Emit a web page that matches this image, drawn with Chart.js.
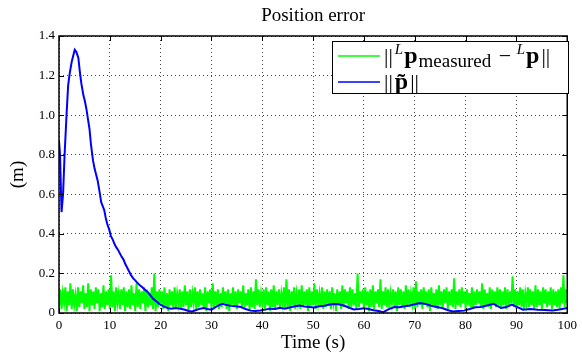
<!DOCTYPE html>
<html>
<head>
<meta charset="utf-8">
<script src="https://cdn.jsdelivr.net/npm/chart.js@4.4.1/dist/chart.umd.min.js"></script>
<style>
  html, body { margin: 0; padding: 0; background: #fff; }
  #wrap { width: 582px; height: 356px; }
</style>
</head>
<body>
<div id="wrap"><canvas id="posError"></canvas></div>
<script>
// measured position error, one sample every 0.25 s (m)
const greenStep = 0.25;
const greenVals = [
  0.03,0.12,0.02,0.10,0.05,0.13,0.01,0.11,0.04,0.15,
  0.02,0.12,0.04,0.09,0.01,0.13,0.03,0.11,0.05,0.14,
  0.02,0.10,0.03,0.15,0.01,0.12,0.04,0.11,0.02,0.13,
  0.05,0.12,0.01,0.10,0.03,0.14,0.02,0.11,0.04,0.12,
  0.02,0.19,0.03,0.11,0.01,0.13,0.05,0.10,0.02,0.12,
  0.04,0.13,0.01,0.11,0.03,0.12,0.02,0.14,0.04,0.10,
  0.01,0.15,0.03,0.12,0.02,0.11,0.05,0.13,0.01,0.12,
  0.03,0.10,0.04,0.13,0.02,0.20,0.01,0.11,0.03,0.12,
  0.05,0.11,0.02,0.13,0.03,0.10,0.01,0.12,0.04,0.11,
  0.02,0.13,0.03,0.10,0.05,0.12,0.02,0.11,0.03,0.14,
  0.04,0.11,0.01,0.12,0.03,0.10,0.05,0.13,0.02,0.11,
  0.03,0.12,0.04,0.10,0.02,0.13,0.01,0.11,0.05,0.12,
  0.02,0.15,0.03,0.11,0.04,0.12,0.02,0.10,0.03,0.13,
  0.05,0.11,0.02,0.12,0.01,0.10,0.04,0.13,0.03,0.11,
  0.02,0.12,0.05,0.11,0.03,0.14,0.02,0.10,0.04,0.12,
  0.01,0.13,0.03,0.11,0.02,0.17,0.04,0.12,0.03,0.10,
  0.05,0.12,0.02,0.13,0.04,0.11,0.01,0.12,0.03,0.14,
  0.02,0.11,0.04,0.12,0.03,0.10,0.05,0.13,0.02,0.17,
  0.03,0.12,0.01,0.11,0.04,0.13,0.02,0.10,0.05,0.12,
  0.02,0.14,0.03,0.11,0.04,0.12,0.01,0.13,0.03,0.11,
  0.04,0.15,0.02,0.12,0.05,0.10,0.03,0.13,0.02,0.11,
  0.03,0.12,0.04,0.11,0.02,0.13,0.05,0.10,0.01,0.12,
  0.04,0.11,0.02,0.14,0.03,0.12,0.05,0.11,0.02,0.13,
  0.03,0.12,0.04,0.10,0.02,0.20,0.03,0.11,0.05,0.12,
  0.02,0.13,0.04,0.11,0.01,0.12,0.03,0.14,0.02,0.11,
  0.05,0.12,0.03,0.17,0.02,0.11,0.04,0.13,0.03,0.12,
  0.02,0.10,0.05,0.12,0.03,0.11,0.01,0.13,0.04,0.12,
  0.03,0.11,0.02,0.14,0.04,0.12,0.03,0.10,0.05,0.13,
  0.02,0.16,0.03,0.11,0.04,0.12,0.02,0.13,0.05,0.11,
  0.03,0.12,0.01,0.13,0.04,0.10,0.03,0.12,0.02,0.14,
  0.04,0.11,0.03,0.12,0.05,0.13,0.02,0.11,0.04,0.12,
  0.03,0.175,0.02,0.11,0.04,0.12,0.03,0.13,0.05,0.11,
  0.02,0.12,0.04,0.10,0.03,0.13,0.02,0.11,0.04,0.12,
  0.05,0.11,0.03,0.15,0.02,0.12,0.04,0.10,0.03,0.13,
  0.02,0.12,0.05,0.11,0.03,0.13,0.04,0.12,0.02,0.11,
  0.04,0.13,0.02,0.12,0.03,0.11,0.05,0.185,0.03,0.12,
  0.02,0.11,0.04,0.13,0.03,0.12,0.02,0.10,0.05,0.13,
  0.03,0.12,0.04,0.11,0.02,0.14,0.03,0.12,0.04,0.11,
  0.02,0.13,0.05,0.12,0.03,0.11,0.04,0.13,0.02,0.12,
  0.04,0.11,0.03,0.12,0.02,0.13,0.05,0.19,0.03,0.12,
  0.05
];

// estimated position error ||p~||
const blueTime = [
  0, 0.2, 0.5, 0.8, 1.1, 1.5, 1.8, 2.1, 2.5, 2.8,
  3.1, 3.4, 3.8, 4.1, 4.4, 4.8, 5.1, 5.4, 5.7, 6.0,
  6.3, 6.7, 7.0, 7.3, 7.6, 8.0, 8.3, 8.6, 8.9, 9.2,
  9.5, 9.9, 10.2, 10.6, 10.9, 11.3, 11.6, 12.0, 12.3, 12.7,
  13.0, 13.4, 13.8, 14.2, 14.6, 15.0, 15.5, 15.9, 16.4, 17.0,
  17.5, 18.1, 18.6, 19.2, 19.8, 20.3, 20.9, 21.5, 22.2, 23.0,
  23.9, 24.8, 25.5, 26.2, 27.0, 27.8, 28.5, 29.2, 30.0, 30.8,
  31.5, 32.2, 33.0, 33.8, 34.8, 35.8, 36.7, 37.7, 38.6, 39.6,
  40.6, 41.5, 42.5, 43.5, 44.4, 45.4, 46.4, 47.3, 48.3, 49.3,
  50.2, 51.2, 52.2, 53.1, 54.0, 55.0, 56.0, 57.0, 58.0, 59.0,
  60.0, 60.9, 61.9, 62.9, 63.8, 64.8, 66.0, 67.0, 68.0, 69.0,
  70.0, 71.0, 72.1, 73.2, 74.3, 75.4, 76.4, 77.5, 78.6, 79.7,
  80.8, 81.9, 83.0, 84.2, 85.5, 86.3, 87.0, 88.0, 89.1, 90.2,
  91.3, 92.7, 94.2, 95.6, 97.1, 98.5, 100
];
const blueVals = [
  0.87, 0.80, 0.51, 0.60, 0.80, 1.01, 1.15, 1.21, 1.27, 1.30,
  1.33, 1.32, 1.29, 1.22, 1.16, 1.10, 1.07, 1.03, 0.98, 0.93,
  0.85, 0.77, 0.73, 0.70, 0.67, 0.61, 0.56, 0.54, 0.52, 0.48,
  0.45, 0.42, 0.39, 0.37, 0.35, 0.33, 0.32, 0.30, 0.285, 0.27,
  0.25, 0.23, 0.21, 0.19, 0.175, 0.165, 0.15, 0.14, 0.13, 0.115,
  0.105, 0.085, 0.07, 0.058, 0.045, 0.037, 0.03, 0.024, 0.022, 0.025,
  0.021, 0.016, 0.01, 0.008, 0.015, 0.022, 0.025, 0.02, 0.017, 0.03,
  0.04, 0.047, 0.04, 0.036, 0.034, 0.03, 0.02, 0.012, 0.01, 0.013,
  0.017, 0.022, 0.02, 0.026, 0.022, 0.028, 0.034, 0.038, 0.033, 0.03,
  0.028, 0.034, 0.037, 0.042, 0.046, 0.044, 0.038, 0.028, 0.018, 0.02,
  0.024, 0.02, 0.014, 0.01, 0.004, 0.018, 0.03, 0.029, 0.034, 0.038,
  0.044, 0.05, 0.046, 0.037, 0.03, 0.025, 0.015, 0.008, 0.01, 0.012,
  0.02, 0.029, 0.03, 0.038, 0.046, 0.035, 0.025, 0.03, 0.042, 0.03,
  0.017, 0.02, 0.017, 0.015, 0.013, 0.018, 0.025
];

const xMin = 0, xMax = 100, xStep = 10;
const yMin = 0, yMax = 1.4, yStep = 0.2;

const SERIF = '"Liberation Serif", "Times New Roman", serif';

const greenPts = greenVals.map((v, i) => ({ x: i * greenStep, y: v }));
const bluePts = blueTime.map((t, i) => ({ x: t, y: blueVals[i] }));

// draws title, inward ticks, the frame and the legend (matlab look)
const matlabFrame = {
  id: 'matlabFrame',
  afterDraw(chart) {
    const ctx = chart.ctx;
    const a = chart.chartArea;
    const xs = chart.scales.x, ys = chart.scales.y;
    ctx.save();

    ctx.fillStyle = '#000';
    ctx.font = '19px ' + SERIF;
    ctx.textAlign = 'center';
    ctx.textBaseline = 'middle';
    ctx.fillText('Position error', (a.left + a.right) / 2, 16);

    ctx.strokeStyle = '#000';
    ctx.lineWidth = 1;
    ctx.beginPath();
    for (let v = xMin; v <= xMax; v += xStep) {
      const px = Math.round(xs.getPixelForValue(v)) + 0.5;
      ctx.moveTo(px, a.bottom); ctx.lineTo(px, a.bottom - 5);
      ctx.moveTo(px, a.top); ctx.lineTo(px, a.top + 5);
    }
    for (let k = 0; k <= Math.round((yMax - yMin) / yStep); k++) {
      const py = Math.round(ys.getPixelForValue(yMin + k * yStep)) + 0.5;
      ctx.moveTo(a.left, py); ctx.lineTo(a.left + 5, py);
      ctx.moveTo(a.right, py); ctx.lineTo(a.right - 5, py);
    }
    ctx.stroke();

    ctx.lineWidth = 1.5;
    ctx.strokeRect(a.left, a.top, a.right - a.left, a.bottom - a.top);

    // legend
    const bx = 332, by = 41, bw = 236, bh = 52;
    ctx.fillStyle = '#fff';
    ctx.fillRect(bx, by, bw, bh);
    ctx.lineWidth = 1;
    ctx.strokeStyle = '#000';
    ctx.strokeRect(bx + 0.5, by + 0.5, bw, bh);

    const rows = [
      { color: '#00ff00', y: 56, parts: [
        { t: '||', f: '22px ' + SERIF, dy: 0, gap: 2 },
        { t: 'L', f: 'italic 15px ' + SERIF, dy: -9, gap: 1 },
        { t: 'p', f: 'bold 24px ' + SERIF, dy: 0, gap: 1 },
        { t: 'measured', f: '19px ' + SERIF, dy: 4, gap: 2 },
        { t: ' \u2212 ', f: '22px ' + SERIF, dy: 0, gap: 0 },
        { t: 'L', f: 'italic 15px ' + SERIF, dy: -9, gap: 1 },
        { t: 'p', f: 'bold 24px ' + SERIF, dy: 0, gap: 2 },
        { t: '||', f: '22px ' + SERIF, dy: 0, gap: 0 }
      ]},
      { color: '#0000ff', y: 82, parts: [
        { t: '||', f: '22px ' + SERIF, dy: 0, gap: 2 },
        { t: 'p\u0303', f: 'bold 24px ' + SERIF, dy: 0, gap: 2 },
        { t: '||', f: '22px ' + SERIF, dy: 0, gap: 0 }
      ]}
    ];
    ctx.textAlign = 'left';
    ctx.textBaseline = 'alphabetic';
    rows.forEach(r => {
      ctx.strokeStyle = r.color;
      ctx.lineWidth = 1.5;
      ctx.beginPath();
      ctx.moveTo(338, r.y); ctx.lineTo(380, r.y);
      ctx.stroke();
      let x = 384;
      ctx.fillStyle = '#000';
      r.parts.forEach(p => {
        ctx.font = p.f;
        ctx.fillText(p.t, x, r.y + 7 + p.dy);
        x += ctx.measureText(p.t).width + p.gap;
      });
    });
    ctx.restore();
  }
};

const ctx = document.getElementById('posError').getContext('2d');
const posChart = new Chart(ctx, {
  type: 'line',
  data: {
    datasets: [
      {
        label: '||p~||',
        data: bluePts,
        borderColor: '#0000ff',
        borderWidth: 2,
        pointRadius: 0,
        tension: 0,
        fill: false
      },
      {
        label: '||Lp_measured - Lp||',
        data: greenPts,
        borderColor: '#00ff00',
        borderWidth: 2,
        pointRadius: 0,
        tension: 0,
        fill: false
      }
    ]
  },
  options: {
    responsive: true,
    maintainAspectRatio: false,
    animation: false,
    layout: { padding: { top: 36, right: 8, left: 0, bottom: 0 } },
    plugins: {
      legend: { display: false },
      title: { display: false },
      tooltip: { enabled: false }
    },
    scales: {
      x: {
        type: 'linear',
        min: xMin,
        max: xMax,
        ticks: {
          stepSize: xStep,
          color: '#000',
          padding: 5,
          maxRotation: 0,
          font: { family: SERIF, size: 13 }
        },
        grid: { color: '#444', lineWidth: 1, drawTicks: false },
        border: { display: false, dash: [1, 3] },
        title: {
          display: true,
          text: 'Time (s)',
          color: '#000',
          font: { family: SERIF, size: 19 },
          padding: { top: 0, bottom: 2 }
        },
        afterFit(s) { s.height = 43; }
      },
      y: {
        min: yMin,
        max: yMax,
        ticks: {
          stepSize: yStep,
          color: '#000',
          padding: 4,
          font: { family: SERIF, size: 13 }
        },
        grid: { color: '#444', lineWidth: 1, drawTicks: false },
        border: { display: false, dash: [1, 3] },
        title: {
          display: true,
          text: '(m)',
          color: '#000',
          font: { family: SERIF, size: 19 },
          padding: { top: 7, bottom: 0 }
        },
        afterFit(s) { s.width = 59; }
      }
    }
  },
  plugins: [matlabFrame]
});
</script>
</body>
</html>
